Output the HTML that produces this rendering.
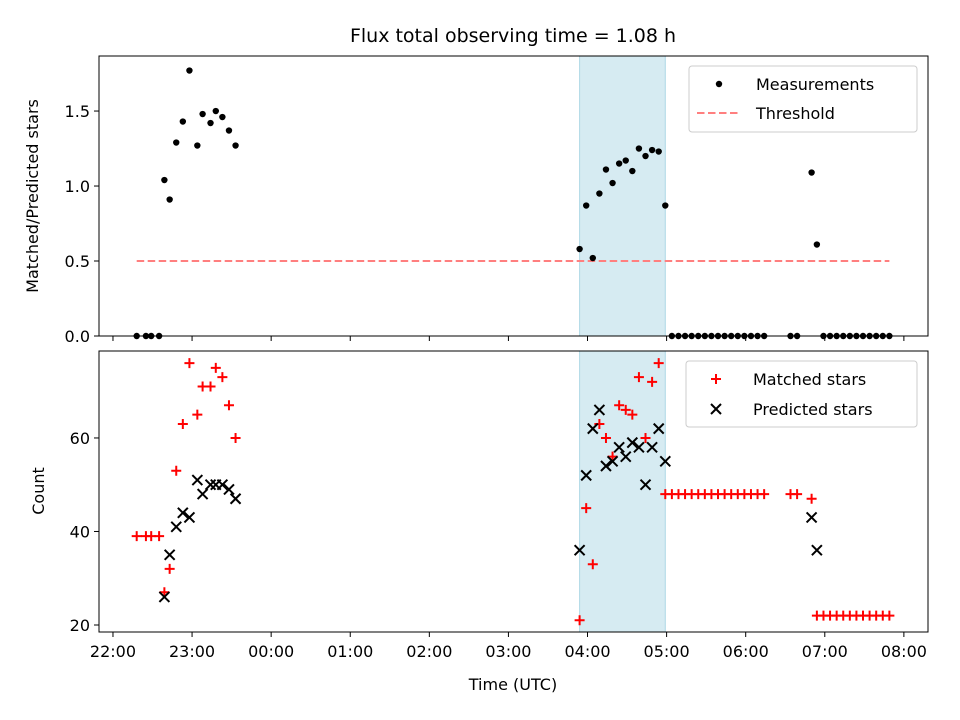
<!DOCTYPE html>
<html><head><meta charset="utf-8">
<style>
html,body{margin:0;padding:0;background:#fff;}
svg{display:block;font-family:"DejaVu Sans","Liberation Sans",sans-serif;}
</style></head>
<body>
<svg id="chart" width="960" height="720" viewBox="0 0 960 720" xmlns="http://www.w3.org/2000/svg">
<text x="513" y="42" text-anchor="middle" font-size="19">Flux total observing time = 1.08 h</text>
<g id="topAx"></g>
<g id="botAx"></g>
<text x="513" y="690" text-anchor="middle" font-size="16">Time (UTC)</text>
<text transform="translate(38,196) rotate(-90)" text-anchor="middle" font-size="16">Matched/Predicted stars</text>
<text transform="translate(44,491) rotate(-90)" text-anchor="middle" font-size="16">Count</text>
</svg>
<script>
// minutes after 22:00 UTC
const times = [18,25,29,35,39,43,48,53,58,64,68,74,78,83,88,93,
 354,359,364,369,374,379,384,389,394,399,404,409,414,419,
 424,429,434,439,444,449,454,459,464,469,474,479,484,489,494,
 514,519,530,534,
 539,544,549,554,559,564,569,574,579,584,589];
const ratios = [0,0,0,0,1.04,0.91,1.29,1.43,1.77,1.27,1.48,1.42,1.50,1.46,1.37,1.27,
 0.58,0.87,0.52,0.95,1.11,1.02,1.15,1.17,1.10,1.25,1.20,1.24,1.23,0.87,
 0,0,0,0,0,0,0,0,0,0,0,0,0,0,0,
 0,0,1.09,0.61,
 0,0,0,0,0,0,0,0,0,0,0];
const matched = [39,39,39,39,27,32,53,63,76,65,71,71,75,73,67,60,
 21,45,33,63,60,56,67,66,65,73,60,72,76,48,
 48,48,48,48,48,48,48,48,48,48,48,48,48,48,48,
 48,48,47,22,
 22,22,22,22,22,22,22,22,22,22,22];
const predicted = [null,null,null,null,26,35,41,44,43,51,48,50,50,50,49,47,
 36,52,62,66,54,55,58,56,59,58,50,58,62,55,
 null,null,null,null,null,null,null,null,null,null,null,null,null,null,null,
 null,null,43,36,
 null,null,null,null,null,null,null,null,null,null,null];
const threshold = 0.5;
const thresholdRange = [18,589];
const shadeRange = [354,419];
const xTickLabels = ["22:00","23:00","00:00","01:00","02:00","03:00","04:00","05:00","06:00","07:00","08:00"];
const topYTicks = [0,0.5,1.0,1.5];
const botYTicks = [20,40,60];

const NS="http://www.w3.org/2000/svg";
const L=99,R=928;
const xMin=-10.6,xMax=618.3;
const X=m=>L+(m-xMin)/(xMax-xMin)*(R-L);
const TT=56,TB=336,BT=351,BB=632;
const YT=v=>TB-(v-0)/(1.867-0)*(TB-TT);
const YB=v=>BB-(v-18.5)/(78.6-18.5)*(BB-BT);
function mk(p,tag,at){const e=document.createElementNS(NS,tag);for(const k in at)e.setAttribute(k,at[k]);p.appendChild(e);return e;}
const gTop=document.getElementById('topAx'),gBot=document.getElementById('botAx');

function axes(g,yT,yB,Y,ticks,fmt,prefix){
  let r=mk(g,'rect',{x:X(shadeRange[0]),y:yT,width:X(shadeRange[1])-X(shadeRange[0]),height:yB-yT,fill:'#add8e6','fill-opacity':0.5,stroke:'#add8e6','stroke-width':1});
  
  
  xTickLabels.forEach((t,i)=>{
    const x=X(i*60);
    const l=mk(g,'line',{x1:x,x2:x,y1:yB,y2:yB+5,stroke:'#000','stroke-width':1});
    
    
  });
  ticks.forEach(v=>{
    const y=Y(v);
    const l=mk(g,'line',{x1:L-5,x2:L,y1:y,y2:y,stroke:'#000','stroke-width':1});
    
    
    const t=mk(g,'text',{x:L-9,y:y+6,'text-anchor':'end','font-size':16});
    t.textContent=fmt(v);
    
    
  });
}
axes(gTop,TT,TB,YT,topYTicks,v=>v.toFixed(1),'top');
axes(gBot,BT,BB,YB,botYTicks,v=>String(v),'bottom');

let th=mk(gTop,'line',{x1:X(thresholdRange[0]),x2:X(thresholdRange[1]),y1:YT(threshold),y2:YT(threshold),stroke:'#ff7f7f','stroke-width':2,'stroke-dasharray':'7.5,3.5'});


times.forEach((m,i)=>{
  const c=mk(gTop,'circle',{cx:X(m),cy:YT(ratios[i]),r:3.2,fill:'#000'});
  
  
});
function plus(g,x,y){return mk(g,'path',{d:`M${x-5},${y}H${x+5}M${x},${y-5}V${y+5}`,stroke:'#f00','stroke-width':2,fill:'none'});}
function cross(g,x,y){return mk(g,'path',{d:`M${x-5},${y-5}L${x+5},${y+5}M${x-5},${y+5}L${x+5},${y-5}`,stroke:'#000','stroke-width':2,fill:'none'});}
times.forEach((m,i)=>{
  const p=plus(gBot,X(m),YB(matched[i]));
  
  
});
times.forEach((m,i)=>{
  if(predicted[i]==null)return;
  const p=cross(gBot,X(m),YB(predicted[i]));
  
  
});
[[gTop,TT,TB,'top'],[gBot,BT,BB,'bottom']].forEach(([g,a,b,n])=>{
  const f=mk(g,'rect',{x:L,y:a,width:R-L,height:b-a,fill:'none',stroke:'#000','stroke-width':1});
  
  
});
xTickLabels.forEach((t,i)=>{
  const tx=mk(gBot,'text',{x:X(i*60),y:BB+25,'text-anchor':'middle','font-size':16});
  tx.textContent=t;
  
  
});
function legend(g,x,y,w,h,name){
  const b=mk(g,'rect',{x:x,y:y,width:w,height:h,rx:3,fill:'#fff','fill-opacity':0.8,stroke:'#ccc','stroke-width':1});
  
  
}
legend(gTop,689,66,228,66,'top-legend');
let c=mk(gTop,'circle',{cx:719,cy:84,r:3.2,fill:'#000'});


let t=mk(gTop,'text',{x:756,y:90,'font-size':16});t.textContent='Measurements';


let ln=mk(gTop,'line',{x1:697,x2:740,y1:113,y2:113,stroke:'#ff7f7f','stroke-width':2,'stroke-dasharray':'7.5,3.5'});


t=mk(gTop,'text',{x:756,y:119,'font-size':16});t.textContent='Threshold';



legend(gBot,686,361,231,66,'bottom-legend');
let p=plus(gBot,716,379);


t=mk(gBot,'text',{x:753,y:385,'font-size':16});t.textContent='Matched stars';


p=cross(gBot,716,409);


t=mk(gBot,'text',{x:753,y:415,'font-size':16});t.textContent='Predicted stars';


</script>
</body></html>
